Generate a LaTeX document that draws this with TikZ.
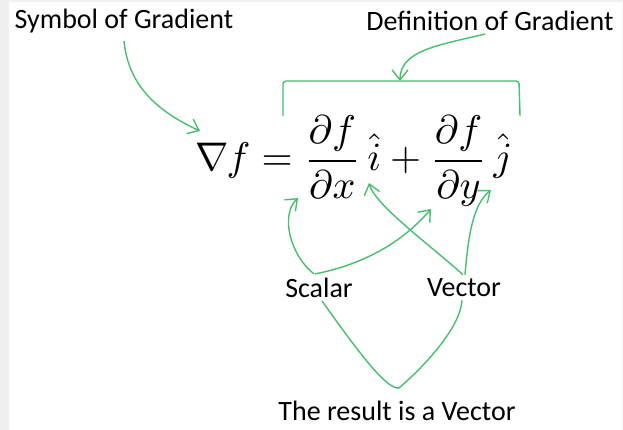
\documentclass[tikz,border=0pt]{standalone}
\usepackage{fontspec}
\setmainfont{Carlito}
\usetikzlibrary{arrows.meta,positioning,calc}
\definecolor{gradgreen}{RGB}{72,190,110}

\begin{document}
\begin{tikzpicture}[x=1pt,y=-1pt,
  lbl/.style={font=\fontsize{28}{32}\selectfont,text=black,inner sep=0pt},
  eqn/.style={scale=4,transform shape,inner sep=0pt},
  ar/.style={-{Straight Barb[length=10pt,width=16pt]},gradgreen,line width=1.4pt},
  ln/.style={gradgreen,line width=1.4pt}]

% screenshot frame
\fill[black!6] (0,0) rectangle (623,430);
\fill[white] (8.5,2) rectangle (621.5,430);
\useasboundingbox (0,0) rectangle (623,430);

\node[lbl] (sym) at (124,21) {Symbol of Gradient};
\node[lbl] (defn) at (490,21) {Definition of Gradient};
\node[eqn] (eq) at (354,161)
  {$\displaystyle \nabla\mkern-1mu f=\frac{\partial f}{\partial x}\,\hat{i}+\frac{\partial f}{\partial y}\,\hat{j}$};
\node[lbl] (scal) at (319,288) {Scalar};
\node[lbl] (vect) at (464,288) {Vector};
\node[lbl] (res) at (397,411) {The result is a Vector};

% targets on the formula
\coordinate (nabtip) at (200,131);
\coordinate (brktip) at (400,81);
\coordinate (dxtip) at (298,198);
\coordinate (dytip) at (431,209);
\coordinate (itip) at (369,183);
\coordinate (jtip) at (491,190);
\coordinate (vbot) at (399,388);

% bracket over the definition
\draw[ln,rounded corners=3pt] (283,116) -- (283,81) -- (519,81) -- (520,116);

\draw[ar] ([yshift=-8pt]sym.south) .. controls (128,80) and (150,108) .. (nabtip);
\draw[ar] ([xshift=-5pt,yshift=-3pt]defn.south) .. controls (440,45) and (400,50) .. (brktip);

\draw[ar] ([xshift=-5pt,yshift=4pt]scal.north) .. controls (290,255) and (280,215) .. (dxtip);
\draw[ar] ([xshift=-4pt,yshift=4pt]scal.north) .. controls (360,265) and (400,245) .. (dytip);
\draw[ar] ([xshift=-1pt,yshift=4pt]vect.north) .. controls (430,245) and (375,205) .. (itip);
\draw[ar] ([xshift=1pt,yshift=4pt]vect.north) .. controls (468,240) and (472,205) .. (jtip);

\draw[ln] ([xshift=3pt,yshift=-3pt]scal.south) .. controls (350,340) and (385,390) .. (vbot)
  .. controls (420,370) and (460,330) .. ([xshift=-2pt,yshift=-3pt]vect.south);
\end{tikzpicture}
\end{document}
